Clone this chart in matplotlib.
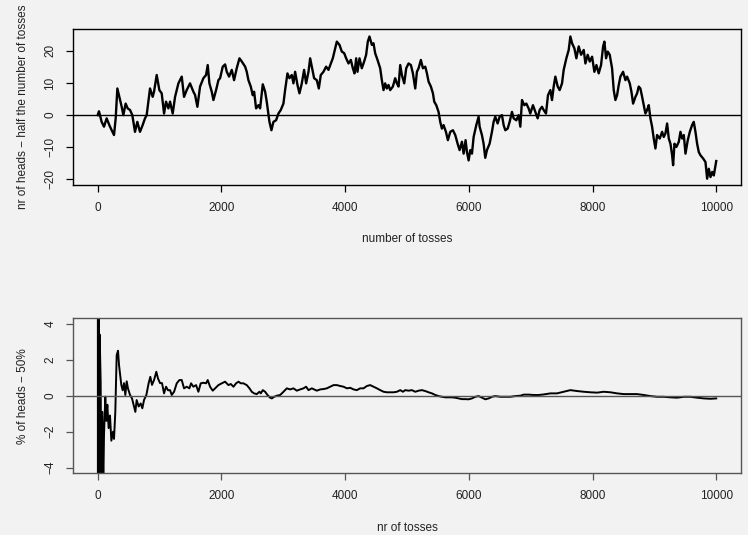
import matplotlib
matplotlib.use("Agg")
import matplotlib.pyplot as plt

# top panel: nr of heads minus half the number of tosses
walk_tosses = [
    0, 21, 64, 102, 145, 188, 226, 264, 291, 318, 350, 388, 415, 452, 485, 523, 560, 603, 641, 684,
    727, 765, 792, 846, 889, 911, 954, 997, 1035, 1073, 1105, 1143, 1170, 1213, 1251, 1305, 1359, 1396,
    1439, 1493, 1547, 1574, 1612, 1655, 1709, 1752, 1779, 1806, 1844, 1871, 1914, 1952, 1979, 2022,
    2060, 2087, 2124, 2168, 2205, 2248, 2292, 2330, 2384, 2410, 2437, 2475, 2507, 2529, 2561, 2599,
    2626, 2669, 2707, 2733, 2777, 2809, 2841, 2884, 2922, 2960, 3003, 3030, 3068, 3100, 3138, 3165,
    3192, 3230, 3262, 3300, 3337, 3370, 3408, 3435, 3462, 3499, 3542, 3575, 3607, 3650, 3693, 3731,
    3769, 3801, 3839, 3866, 3909, 3947, 3985, 4017, 4055, 4093, 4125, 4152, 4179, 4200, 4233, 4270,
    4308, 4340, 4367, 4394, 4432, 4459, 4486, 4524, 4567, 4594, 4621, 4648, 4675, 4702, 4729, 4772,
    4810, 4837, 4864, 4891, 4918, 4956, 4988, 5026, 5064, 5096, 5134, 5161, 5188, 5225, 5258, 5296,
    5323, 5350, 5387, 5420, 5441, 5474, 5511, 5538, 5565, 5592, 5630, 5662, 5700, 5743, 5781, 5819,
    5851, 5889, 5916, 5948, 5970, 5997, 6024, 6051, 6078, 6121, 6158, 6175, 6212, 6239, 6266, 6293,
    6336, 6374, 6401, 6428, 6466, 6498, 6536, 6563, 6590, 6628, 6660, 6698, 6725, 6768, 6806, 6833,
    6860, 6897, 6930, 6967, 6994, 7037, 7075, 7113, 7145, 7183, 7210, 7248, 7280, 7318, 7345, 7372,
    7399, 7437, 7469, 7507, 7534, 7577, 7615, 7642, 7669, 7707, 7739, 7777, 7815, 7858, 7885, 7922,
    7955, 7993, 8030, 8063, 8100, 8138, 8171, 8192, 8219, 8246, 8278, 8316, 8343, 8370, 8397, 8424,
    8451, 8494, 8532, 8559, 8602, 8629, 8656, 8694, 8721, 8747, 8774, 8802, 8828, 8855, 8882, 8909,
    8936, 8963, 8990, 9017, 9044, 9087, 9125, 9152, 9179, 9206, 9233, 9260, 9287, 9303, 9325, 9357,
    9395, 9422, 9449, 9476, 9503, 9540, 9573, 9610, 9637, 9664, 9691, 9718, 9745, 9788, 9826, 9853,
    9880, 9907, 9934, 9961, 9988, 10000,
]
walk_values = [
    0, 1.2, -2.1, -3.6, -1.0, -3.1, -4.7, -6.2, -1.0, 8.3, 5.7, 2.6, 0, 3.6, 2.1, 1.6, 0, -5.2, -2.1, -5.2,
    -3.1, -1.0, 0, 8.3, 5.7, 7.3, 12.5, 7.8, 6.8, 0.5, 4.2, 2.1, 4.2, 0.5, 5.7, 9.9, 12.0, 5.7,
    7.8, 9.9, 7.3, 6.3, 2.6, 8.9, 11.5, 12.5, 15.6, 9.9, 7.3, 4.7, 7.8, 10.9, 11.5, 15.1,
    15.8, 13.5, 12.0, 14.1, 10.9, 14.6, 17.7, 16.7, 15.1, 13.5, 10.9, 8.9, 6.2, 7.3, 2.1, 3.1,
    2.1, 9.6, 7.3, 4.2, -2.1, -4.7, -2.1, -1.6, 0.5, 1.6, 3.6, 7.8, 13.0, 11.5, 12.5, 9.9,
    13.5, 9.4, 6.8, 9.9, 14.1, 9.9, 13.5, 17.7, 15.1, 11.5, 10.9, 8.3, 12.5, 13.5, 15.1, 14.1,
    16.1, 17.7, 20.8, 22.9, 21.9, 19.8, 19.3, 17.7, 16.1, 17.2, 14.6, 13.0, 17.7, 13.5, 17.7, 14.6,
    16.7, 18.8, 22.9, 24.5, 21.9, 22.4, 19.3, 17.2, 14.6, 10.9, 7.8, 9.9, 8.3, 9.4, 7.8, 8.9,
    11.5, 9.9, 8.9, 15.6, 12.5, 9.9, 14.6, 16.1, 15.6, 13.0, 8.3, 13.5, 14.6, 17.2, 14.6, 15.1,
    13.0, 10.4, 8.9, 6.8, 4.2, 3.1, 1.0, -2.1, -4.2, -3.1, -5.2, -7.8, -5.2, -4.7, -6.2, -8.9,
    -10.9, -8.3, -12.0, -7.8, -11.5, -14.1, -10.9, -12.0, -6.8, -3.1, -0.5, -3.6, -6.2, -8.9, -13.3, -10.9,
    -8.9, -5.2, -2.1, -0.5, -2.6, -0.5, 0, -3.1, -4.7, -4.2, -2.1, 1.0, -1.0, -1.6, 0, -3.6,
    4.7, 3.1, 3.6, 2.1, 0.5, 3.1, 1.0, -1.0, 1.6, 2.6, 1.6, 0.5, 6.2, 7.8, 4.7, 8.9,
    12.0, 8.9, 7.8, 9.9, 14.1, 17.7, 20.3, 24.5, 22.4, 20.8, 17.7, 21.4, 18.8, 20.3, 16.1, 18.8,
    16.7, 18.2, 13.5, 15.6, 13.0, 15.6, 21.4, 22.9, 17.7, 19.8, 18.8, 14.6, 7.8, 4.7, 6.2, 9.4,
    12.0, 13.5, 10.9, 12.0, 9.9, 7.3, 3.6, 5.7, 6.8, 8.9, 8.3, 5.7, 3.1, 0.5, 1.6, 3.1,
    -1.0, -3.6, -7.3, -10.4, -6.2, -7.3, -5.2, -6.8, -5.7, -2.6, -7.3, -8.9, -12.5, -15.6, -8.9, -9.9,
    -8.3, -5.2, -7.3, -6.2, -12.0, -7.8, -5.2, -3.1, -2.1, -5.2, -8.9, -11.5, -12.5, -13.5, -14.6, -19.8,
    -16.7, -19.3, -17.7, -18.8, -15.6, -14.3,
]

# bottom panel: % of heads - 50% (first points run off the scale)
pct_tosses = [
    1, 4, 8, 14, 20, 26, 32, 48, 59, 75, 91, 102, 123, 140, 156, 177, 199, 221, 248, 264,
    285, 307, 329, 345, 367, 382, 404, 426, 447, 469, 490, 523, 555, 587, 609, 630, 663, 695, 722, 749,
    787, 824, 851, 878, 911, 948, 975, 1008, 1040, 1073, 1105, 1138, 1170, 1197, 1235, 1278, 1321, 1359,
    1396, 1440, 1483, 1510, 1547, 1591, 1628, 1666, 1709, 1752, 1779, 1817, 1860, 1898, 1952, 2006,
    2060, 2114, 2152, 2195, 2238, 2276, 2313, 2356, 2410, 2454, 2491, 2529, 2572, 2615, 2637, 2669,
    2707, 2745, 2788, 2815, 2853, 2896, 2950, 3004, 3058, 3111, 3165, 3219, 3273, 3327, 3370, 3408,
    3462, 3500, 3543, 3597, 3651, 3705, 3759, 3813, 3867, 3921, 3975, 4029, 4083, 4137, 4190, 4244,
    4298, 4352, 4406, 4460, 4514, 4568, 4622, 4676, 4730, 4784, 4838, 4892, 4935, 4972, 5026, 5080,
    5134, 5188, 5242, 5296, 5350, 5404, 5458, 5512, 5566, 5620, 5674, 5727, 5781, 5835, 5889, 5943,
    5997, 6051, 6105, 6159, 6213, 6267, 6321, 6375, 6429, 6510, 6590, 6671, 6752, 6833, 6887, 6968,
    7049, 7130, 7211, 7319, 7426, 7534, 7642, 7750, 7858, 7966, 8074, 8181, 8289, 8397, 8505, 8613,
    8721, 8829, 8937, 9044, 9152, 9260, 9368, 9476, 9584, 9692, 9800, 9907, 10000,
]
pct_values = [
    50, -25, 12.5, -7.1, 5.0, -4.6, 3.4, 0.8, -5.0, -0.9, -5.0, -2.2, -0.05, -1.4, -0.5, -1.8, -1.1, -2.5, -2.0, -2.4,
    -0.9, 2.26, 2.5, 1.7, 1.05, 0.6, 0.3, 0.7, 0.04, 0.8, 0.4, 0.04, -0.15, -0.6, -0.9, -0.24, -0.6, -0.43, -0.7, -0.24,
    0.04, 0.7, 1.05, 0.6, 0.87, 1.33, 0.96, 0.7, 0.7, 0.13, 0.5, 0.3, 0.31, 0.04, 0.22, 0.69, 0.87, 0.87,
    0.41, 0.5, 0.41, 0.69, 0.5, 0.59, 0.22, 0.69, 0.72, 0.69, 0.87, 0.5, 0.28, 0.41, 0.59, 0.69,
    0.78, 0.59, 0.65, 0.5, 0.69, 0.78, 0.69, 0.69, 0.59, 0.41, 0.22, 0.13, 0.09, 0.22, 0.13, 0.31,
    0.22, 0.04, -0.11, -0.15, -0.06, 0, 0.04, 0.22, 0.41, 0.35, 0.41, 0.28, 0.35, 0.41, 0.5, 0.31,
    0.41, 0.35, 0.28, 0.35, 0.37, 0.41, 0.5, 0.59, 0.59, 0.54, 0.5, 0.41, 0.44, 0.35, 0.31, 0.41,
    0.41, 0.54, 0.59, 0.5, 0.41, 0.31, 0.22, 0.19, 0.19, 0.19, 0.22, 0.31, 0.22, 0.31, 0.28, 0.31,
    0.22, 0.28, 0.31, 0.26, 0.19, 0.13, 0.04, -0.02, -0.06, -0.09, -0.09, -0.09, -0.11, -0.15, -0.19, -0.19,
    -0.2, -0.15, -0.06, -0.02, -0.11, -0.2, -0.15, -0.06, -0.02, -0.06, -0.06, -0.06, -0.02, 0, 0.06, 0.06,
    0.04, 0.04, 0.07, 0.13, 0.13, 0.22, 0.31, 0.26, 0.22, 0.19, 0.17, 0.22, 0.19, 0.13, 0.09, 0.09,
    0.09, 0.04, -0.02, -0.06, -0.06, -0.09, -0.11, -0.06, -0.06, -0.11, -0.15, -0.17, -0.15,
]

x_ticks = [0, 2000, 4000, 6000, 8000, 10000]
walk_yticks = [-20, -10, 0, 10, 20]
pct_yticks = [-4, -2, 0, 2, 4]

BG = "#f2f2f2"
TEXT = "#222222"
plt.rcParams["font.family"] = ["Liberation Sans", "DejaVu Sans"]
plt.rcParams["axes.unicode_minus"] = True

fig = plt.figure(figsize=(7.48, 5.35), dpi=100, facecolor=BG)
ax_top = fig.add_axes([0.0976, 0.654, 0.893, 0.2916])
ax_bot = fig.add_axes([0.0976, 0.1151, 0.893, 0.2905])


def style_axis(ax, edge):
    ax.set_facecolor(BG)
    for spine in ax.spines.values():
        spine.set_color(edge)
        spine.set_linewidth(1.0)
    ax.tick_params(direction="out", length=5, width=0.9, color=edge, labelcolor=TEXT,
                   labelsize=8.5, pad=7)
    ax.set_xlim(-399, 10400)
    ax.set_xticks(x_ticks)
    for label in ax.get_yticklabels():
        label.set_rotation(90)
        label.set_va("center")


ax_top.plot(walk_tosses, walk_values, color="black", lw=1.7)
ax_top.axhline(0, color="black", lw=1.0)
ax_top.set_ylim(-21.8, 26.8)
ax_top.set_yticks(walk_yticks)
style_axis(ax_top, "black")
ax_top.set_xlabel("number of tosses", fontsize=8.5, color=TEXT, labelpad=14)
ax_top.set_ylabel("nr of heads \u2212 half the number of tosses", fontsize=8.5, color=TEXT, labelpad=11)

ax_bot.plot(pct_tosses, pct_values, color="black", lw=1.4)
ax_bot.axhline(0, color="#555555", lw=1.0)
ax_bot.set_ylim(-4.32, 4.32)
ax_bot.set_yticks(pct_yticks)
style_axis(ax_bot, "#555555")
ax_bot.set_xlabel("nr of tosses", fontsize=8.5, color=TEXT, labelpad=14)
ax_bot.set_ylabel("% of heads \u2212 50%", fontsize=8.5, color=TEXT, labelpad=11)

fig.savefig("out.png", dpi=100, facecolor=BG)
